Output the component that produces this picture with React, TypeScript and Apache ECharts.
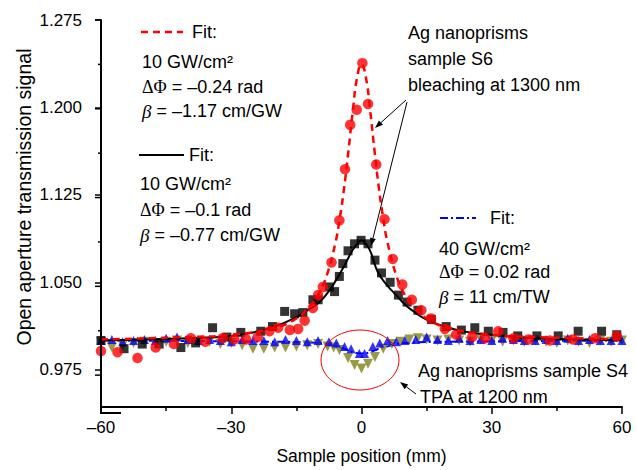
import React, { useEffect, useRef } from "react";
import * as echarts from "echarts";

// ---- data ----
const redX = [-60, -56.2, -51.6, -47.4, -43.2, -39.3, -36, -32, -29.3, -26.6, -23.9, -21.2, -19.2, -16.5, -14.6, -13.1, -11.2, -10, -8.9, -6.9, -5.1, -3.8, -2.6, -1.1, 0.2, 1.5, 3.4, 5.3, 7.2, 9.4, 11.6, 13.8, 16, 19.2, 21.8, 25.5, 28.5, 31.5, 35, 38.5, 43.4, 48.7, 53.8, 58.8];
const redY = [0.991, 0.99, 0.985, 0.994, 0.997, 1.002, 0.999, 1.002, 1.001, 1.001, 1.003, 1.008, 1.011, 1.009, 1.01, 1.017, 1.028, 1.039, 1.046, 1.067, 1.103, 1.147, 1.185, 1.198, 1.238, 1.203, 1.151, 1.104, 1.07, 1.048, 1.035, 1.026, 1.019, 1.01, 1.005, 1.003, 1.002, 1.008, 1.002, 1.001, 1.0, 1.001, 1.002, 1.004];

const blackX = [-60, -54.7, -50.5, -46.6, -41.6, -38.2, -34.3, -31, -27.8, -23.2, -20.5, -17.7, -15.4, -13.5, -11.2, -10, -7.4, -6.2, -5.1, -4.3, -3.1, -1.6, -0.1, 1.5, 3.1, 4.6, 6.6, 8.5, 10.5, 13, 16.1, 19.5, 23, 26.1, 29.2, 32.6, 36, 40.4, 45.3, 49.9, 55.3, 58.8];
const blackY = [1.0, 0.993, 0.997, 0.997, 0.994, 0.998, 1.011, 1.003, 1.007, 1.008, 1.012, 1.025, 1.023, 1.024, 1.035, 1.035, 1.046, 1.042, 1.055, 1.066, 1.077, 1.083, 1.086, 1.083, 1.069, 1.058, 1.05, 1.039, 1.033, 1.026, 1.018, 1.012, 1.009, 1.011, 1.008, 1.007, 1.004, 1.004, 1.004, 1.008, 1.008, 1.005];

const blueX = [-60, -57.5, -55, -52.5, -50, -47.5, -45, -42.5, -40, -37.5, -35, -32.5, -30, -27.5, -25, -22.5, -20, -17.5, -15, -12.5, -10, -7.5, -5.8, -3.9, -2.4, -0.5, 0.7, 2.6, 4.2, 6, 8, 10, 12.5, 15, 17.5, 20, 22.5, 25, 27.5, 30, 32.5, 35, 37.5, 40, 42.5, 45, 47.5, 50, 52.5, 55, 57.5, 60];
const blueY = [1.0, 1.001, 0.999, 1.0, 1.001, 1.0, 1.002, 1.003, 1.001, 1.0, 1.001, 1.0, 0.999, 1.001, 1.0, 1.0, 0.999, 1.001, 1.0, 0.999, 1.0, 0.999, 0.998, 0.995, 0.993, 0.989, 0.989, 0.995, 0.998, 1.0, 0.999, 1.0, 1.001, 1.003, 1.001, 1.0, 1.002, 1.0, 1.001, 1.0, 1.002, 1.001, 1.0, 1.0, 1.001, 1.0, 1.002, 1.0, 1.001, 1.0, 1.0, 1.0];

const oliveX = [-60, -57.5, -55, -52.5, -50, -47.5, -45, -42.5, -40, -37.5, -35, -32.5, -30, -27.5, -25, -22.5, -20, -17.5, -15, -12.5, -10, -7.8, -6.4, -5.1, -3.1, -1.6, 0, 1.5, 3.1, 5, 7, 9, 11, 13, 15, 17.5, 20, 22.5, 25, 27.5, 30, 32.5, 35, 37.5, 40, 42.5, 45, 47.5, 50, 52.5, 55, 57.5, 60];
const oliveY = [0.999, 0.994, 0.996, 0.998, 0.999, 0.998, 0.999, 1.0, 0.998, 0.999, 0.999, 0.997, 0.998, 0.996, 0.993, 0.993, 0.994, 0.994, 0.995, 0.996, 0.997, 0.995, 0.994, 0.992, 0.985, 0.979, 0.976, 0.98, 0.986, 0.993, 0.997, 0.999, 1.001, 1.002, 1.001, 1.0, 1.001, 1.0, 0.999, 1.001, 1.0, 0.999, 1.0, 0.999, 1.0, 0.999, 0.998, 1.0, 0.999, 0.998, 1.0, 0.999, 1.0];

const redFitX = [-60, -40, -30, -20, -15, -12, -10, -8, -6, -5, -4, -3, -2, -1, 0, 1, 2, 3, 4, 5, 6, 8, 10, 12, 15, 20, 30, 40, 60];
const redFitY = [1.001, 1.003, 1.005, 1.011, 1.019, 1.029, 1.039, 1.056, 1.084, 1.105, 1.131, 1.163, 1.197, 1.226, 1.237, 1.226, 1.197, 1.163, 1.131, 1.105, 1.084, 1.056, 1.039, 1.029, 1.019, 1.011, 1.005, 1.003, 1.001];

const blackFitX = [-60, -50, -40, -30, -25, -20, -15, -12, -10, -8, -6, -4, -2, -1, 0, 1, 2, 3, 4, 6, 8, 10, 12, 15, 20, 25, 30, 40, 50, 60];
const blackFitY = [1.0, 1.001, 1.002, 1.004, 1.007, 1.012, 1.02, 1.027, 1.032, 1.04, 1.051, 1.064, 1.078, 1.083, 1.086, 1.083, 1.077, 1.066, 1.057, 1.047, 1.039, 1.031, 1.025, 1.018, 1.011, 1.007, 1.005, 1.002, 1.001, 1.0];

const blueFitX = [-60, -20, -10, -8, -6, -4, -2, 0, 2, 4, 6, 8, 10, 20, 60];
const blueFitY = [1.0, 0.999, 0.998, 0.997, 0.995, 0.993, 0.99, 0.989, 0.99, 0.993, 0.995, 0.997, 0.998, 0.999, 1.0];

const yMin = 0.943;
const yMax = 1.275;
const yTickValues = [0.975, 1.05, 1.125, 1.2, 1.275];
const yMinorValues = [1.0125, 1.0875, 1.1625, 1.2375];

const FONT = "'Liberation Sans', Arial, sans-serif";
const SERIF = "'Liberation Serif', 'Times New Roman', serif";
const FS = 18;

const GRID = { left: 101, right: 15, top: 20, bottom: 57 };
const W = 637;
const H = 470;

const zip = (xs: number[], ys: number[]) => xs.map((x, i) => [x, ys[i]]);

function arrow(x1: number, y1: number, x2: number, y2: number) {
  const ang = Math.atan2(y2 - y1, x2 - x1);
  const L = 8, Wd = 3;
  const bx = x2 - L * Math.cos(ang), by = y2 - L * Math.sin(ang);
  const px = -Math.sin(ang) * Wd, py = Math.cos(ang) * Wd;
  return [
    { type: "line", shape: { x1, y1, x2: bx, y2: by }, style: { stroke: "#000", lineWidth: 1 }, z: 100 },
    { type: "polygon", shape: { points: [[x2, y2], [bx + px, by + py], [bx - px, by - py]] }, style: { fill: "#000" }, z: 100 },
  ];
}

function txt(x: number, y: number, text: string) {
  return {
    type: "text",
    x,
    y,
    z: 100,
    style: {
      text,
      fill: "#000",
      fontSize: FS,
      fontFamily: FONT,
      verticalAlign: "middle",
      align: "left",
      rich: {
        g: { fontFamily: SERIF, fontSize: FS, fill: "#000" },
        b: { fontFamily: SERIF, fontStyle: "italic", fontSize: FS + 1, fill: "#000" },
      },
    },
  };
}

export default function App() {
  const ref = useRef<HTMLDivElement>(null);
  useEffect(() => {
    document.body.style.margin = "0";
    const chart = echarts.init(ref.current!, null, { renderer: "svg" });

    // y-axis frame (L-shaped polyline) and ticks, from the grid box and the axis range
    const plotH = H - GRID.top - GRID.bottom;
    const plotB = GRID.top + plotH;
    const yPix = (v: number) => GRID.top + ((yMax - v) / (yMax - yMin)) * plotH;
    const xLeft = GRID.left;
    const axisGraphics: any[] = [
      {
        type: "polyline",
        shape: { points: [[xLeft, GRID.top], [xLeft, plotB], [xLeft + 20, plotB]] },
        style: { stroke: "#000", lineWidth: 2, fill: null },
        z: 200,
      },
      ...yTickValues.map((v) => ({ type: "polyline", shape: { points: [[xLeft - 6, yPix(v)], [xLeft, yPix(v)]] }, style: { stroke: "#000", lineWidth: 1.5, fill: null }, z: 200 })),
      ...yMinorValues.map((v) => ({ type: "polyline", shape: { points: [[xLeft - 3, yPix(v)], [xLeft, yPix(v)]] }, style: { stroke: "#000", lineWidth: 1.5, fill: null }, z: 200 })),
    ];

    const option: any = {
      animation: false,
      grid: GRID,
      xAxis: {
        type: "value",
        min: -60,
        max: 60,
        interval: 30,
        axisLine: { show: true, onZero: false, lineStyle: { color: "#000", width: 2 } },
        axisTick: { show: true, length: 7, lineStyle: { color: "#000", width: 1.5 } },
        minorTick: { show: true, splitNumber: 2, length: 4, lineStyle: { color: "#000", width: 1.5 } },
        splitLine: { show: false },
        minorSplitLine: { show: false },
        axisLabel: {
          fontSize: 17,
          fontFamily: FONT,
          color: "#000",
          margin: 12,
          formatter: (v: number) => String(v).replace("-", "\u2013"),
        },
        name: "Sample position (mm)",
        nameLocation: "middle",
        nameGap: 40,
        nameTextStyle: { fontSize: 17.5, fontFamily: FONT, color: "#000" },
      },
      yAxis: {
        type: "value",
        min: yMin,
        max: yMax,
        axisLine: { show: true, onZero: false, lineStyle: { color: "#000", width: 2 } },
        axisTick: { show: true, customValues: yTickValues, length: 6, lineStyle: { color: "#000", width: 1.5 } },
        axisLabel: {
          customValues: yTickValues,
          fontSize: 17,
          fontFamily: FONT,
          color: "#000",
          margin: 19,
          formatter: (v: number) => v.toFixed(3),
        },
        splitLine: { show: false },
      },
      series: [
        { type: "line", data: zip(blueFitX, blueFitY), showSymbol: false, smooth: true, lineStyle: { color: "#0000ff", width: 2, type: [8, 3, 2, 3] }, z: 1 },
        { type: "scatter", data: zip(oliveX, oliveY), symbol: "triangle", symbolRotate: 180, symbolSize: 10, itemStyle: { color: "#7f7f1a" }, z: 2 },
        { type: "scatter", data: zip(blueX, blueY), symbol: "triangle", symbolSize: 9, itemStyle: { color: "#0000ff" }, z: 3 },
        { type: "scatter", data: zip(blackX, blackY), symbol: "rect", symbolSize: 9, itemStyle: { color: "#000" }, z: 4 },
        { type: "line", data: zip(blackFitX, blackFitY), showSymbol: false, smooth: true, lineStyle: { color: "#000", width: 2 }, z: 5 },
        { type: "scatter", data: zip(redX, redY), symbol: "circle", symbolSize: 10.5, itemStyle: { color: "#ff0000" }, z: 6 },
        { type: "line", data: zip(redFitX, redFitY), showSymbol: false, smooth: true, lineStyle: { color: "#ff0000", width: 2.5, type: [7, 5] }, z: 7 },
      ],
      graphic: [
        ...axisGraphics,
        { type: "line", shape: { x1: 141, y1: 32, x2: 183, y2: 32 }, style: { stroke: "#ff0000", lineWidth: 2.5, lineDash: [7, 5] } },
        txt(192, 32, "Fit:"),
        txt(142, 62, "10 GW/cm\u00b2"),
        txt(142, 87, "{g|\u0394\u03a6} = \u20130.24 rad"),
        txt(142, 111, "{b|\u03b2} = \u20131.17 cm/GW"),
        { type: "line", shape: { x1: 139, y1: 155, x2: 184, y2: 155 }, style: { stroke: "#000", lineWidth: 2 } },
        txt(189, 155, "Fit:"),
        txt(140, 184, "10 GW/cm\u00b2"),
        txt(140, 210, "{g|\u0394\u03a6} = \u20130.1 rad"),
        txt(140, 235, "{b|\u03b2} = \u20130.77 cm/GW"),
        { type: "line", shape: { x1: 440, y1: 218, x2: 476, y2: 218 }, style: { stroke: "#0000ff", lineWidth: 2, lineDash: [8, 3, 2, 3] } },
        txt(490, 218, "Fit:"),
        txt(439, 249, "40 GW/cm\u00b2"),
        txt(439, 272, "{g|\u0394\u03a6} = 0.02 rad"),
        txt(439, 297, "{b|\u03b2} = 11 cm/TW"),
        txt(408, 33, "Ag nanoprisms"),
        txt(408, 59, "sample S6"),
        txt(408, 85, "bleaching at 1300 nm"),
        ...arrow(406, 100, 375, 128),
        ...arrow(407, 102, 371, 246),
        { type: "ellipse", shape: { cx: 360, cy: 360, rx: 39, ry: 30 }, style: { stroke: "#ff0000", lineWidth: 1, fill: "none" }, z: 100 },
        txt(418, 371, "Ag nanoprisms sample S4"),
        txt(420, 397, "TPA at 1200 nm"),
        ...arrow(416, 394, 400, 382),
        {
          type: "text",
          x: 24,
          y: 197,
          rotation: Math.PI / 2,
          style: { text: "Open aperture transmission signal", fill: "#000", fontSize: 19.5, fontFamily: FONT, align: "center", verticalAlign: "middle" },
        },
      ],
    };
    chart.setOption(option);
    return () => chart.dispose();
  }, []);
  return <div ref={ref} style={{ width: W, height: H }} />;
}
